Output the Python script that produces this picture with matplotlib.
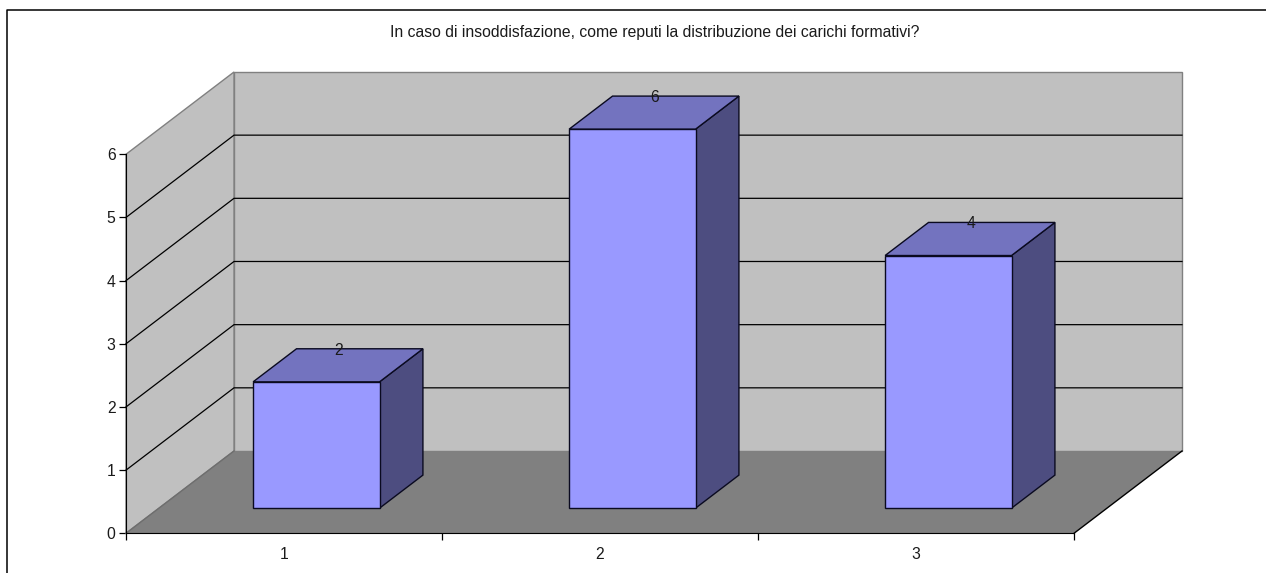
import matplotlib
matplotlib.use('Agg')
import matplotlib.pyplot as plt
from matplotlib.lines import Line2D
from matplotlib.patches import Polygon

categories = ['1', '2', '3']
values = [2, 6, 4]
y_ticks = [0, 1, 2, 3, 4, 5, 6]
title = 'In caso di insoddisfazione, come reputi la distribuzione dei carichi formativi?'

# scala in pixel dell'immagine
W, H = 1266, 573
X0, Y0 = 126.0, 533.3
UX, UY = 316.0, 63.17
DX, DY = 108.0 / UX, 82.3 / UY  # spostamento della profondita'
YMAX = 6
FS = 11.3

plt.rcParams['font.family'] = ['Liberation Sans', 'DejaVu Sans']

fig = plt.figure(figsize=(W / 100, H / 100), dpi=100)
ax = fig.add_axes([0, 0, 1, 1])
ax.set_xlim(-X0 / UX, (W - X0) / UX)
ax.set_ylim((Y0 - H) / UY, Y0 / UY)


def p(x, y, d=0.0):
    # proiezione: categoria, valore, profondita' 0-1
    return (x + d * DX, y + d * DY)


n = len(categories)
WALL = '#C0C0C0'
FLOOR = '#808080'

# pareti e pavimento
ax.add_patch(Polygon([p(0, 0, 1), p(n, 0, 1), p(n, YMAX, 1), p(0, YMAX, 1)],
                     fc=WALL, ec=FLOOR, lw=1.0, zorder=1))
ax.add_patch(Polygon([p(0, 0), p(0, 0, 1), p(0, YMAX, 1), p(0, YMAX)],
                     fc=WALL, ec=FLOOR, lw=1.0, zorder=1))
ax.add_patch(Polygon([p(0, 0), p(n, 0), p(n, 0, 1), p(0, 0, 1)],
                     fc=FLOOR, ec='none', zorder=2))
ax.plot(*zip(p(0, 0), p(0, 0, 1)), color='#6E6E6E', lw=1.0, zorder=3)
ax.plot(*zip(p(n, 0), p(n, 0, 1)), color='black', lw=1.0, zorder=3)

# griglia
for v in y_ticks[1:-1]:
    ax.plot(*zip(p(0, v), p(0, v, 1), p(n, v, 1)), color='black', lw=0.9, zorder=2)

# barre
B0, B1 = 0.298, 0.698
D0, D1 = 0.305, 0.707
EDGE = '#0A0A20'
for i, v in enumerate(values):
    l, r = i + B0, i + B1
    ax.add_patch(Polygon([p(r, 0, D0), p(r, 0, D1), p(r, v, D1), p(r, v, D0)],
                         fc='#4D4D80', ec=EDGE, lw=1.0, zorder=4))
    ax.add_patch(Polygon([p(l, v, D0), p(r, v, D0), p(r, v, D1), p(l, v, D1)],
                         fc='#7373BF', ec=EDGE, lw=1.0, zorder=4))
    ax.add_patch(Polygon([p(l, 0, D0), p(r, 0, D0), p(r, v, D0), p(l, v, D0)],
                         fc='#9999FF', ec=EDGE, lw=1.0, zorder=5))
    tx, ty = p(i + 0.5, v, D1)
    ax.text(tx - 0.5 * (D1 - D0) * DX, ty - 1.5 / UY, str(v), ha='center', va='center',
            fontsize=FS, color='#1A1A1A', zorder=6)

# assi
for s in ['top', 'right']:
    ax.spines[s].set_visible(False)
ax.spines['left'].set_position(('data', 0))
ax.spines['bottom'].set_position(('data', 0))
ax.spines['left'].set_bounds(0, YMAX)
ax.spines['bottom'].set_bounds(0, n)
ax.spines['left'].set_zorder(7)
ax.spines['bottom'].set_zorder(7)
ax.patch.set_visible(False)

ax.set_yticks(y_ticks)
ax.set_yticklabels([str(v) for v in y_ticks], fontsize=FS, color='#1A1A1A')
ax.set_xticks(range(n + 1))
ax.set_xticklabels([])
ax.set_xticks([i + 0.5 for i in range(n)], minor=True)
ax.set_xticklabels(categories, minor=True, fontsize=FS, color='#1A1A1A')
ax.tick_params(axis='y', direction='out', length=5, width=0.9, pad=2.5)
ax.tick_params(axis='x', which='major', direction='out', length=5, width=0.9)
ax.tick_params(axis='x', which='minor', length=0, pad=10)

ax.text(654.5 / W, 1 - 32.5 / H, title, transform=ax.transAxes, ha='center', va='center',
        fontsize=FS, color='#1A1A1A')

# cornice
fig.add_artist(Line2D([7.5 / W, 7.5 / W, 1], [0, 1 - 9.5 / H, 1 - 9.5 / H],
                      color='black', lw=1.1))

fig.savefig('out.png', dpi=100)
